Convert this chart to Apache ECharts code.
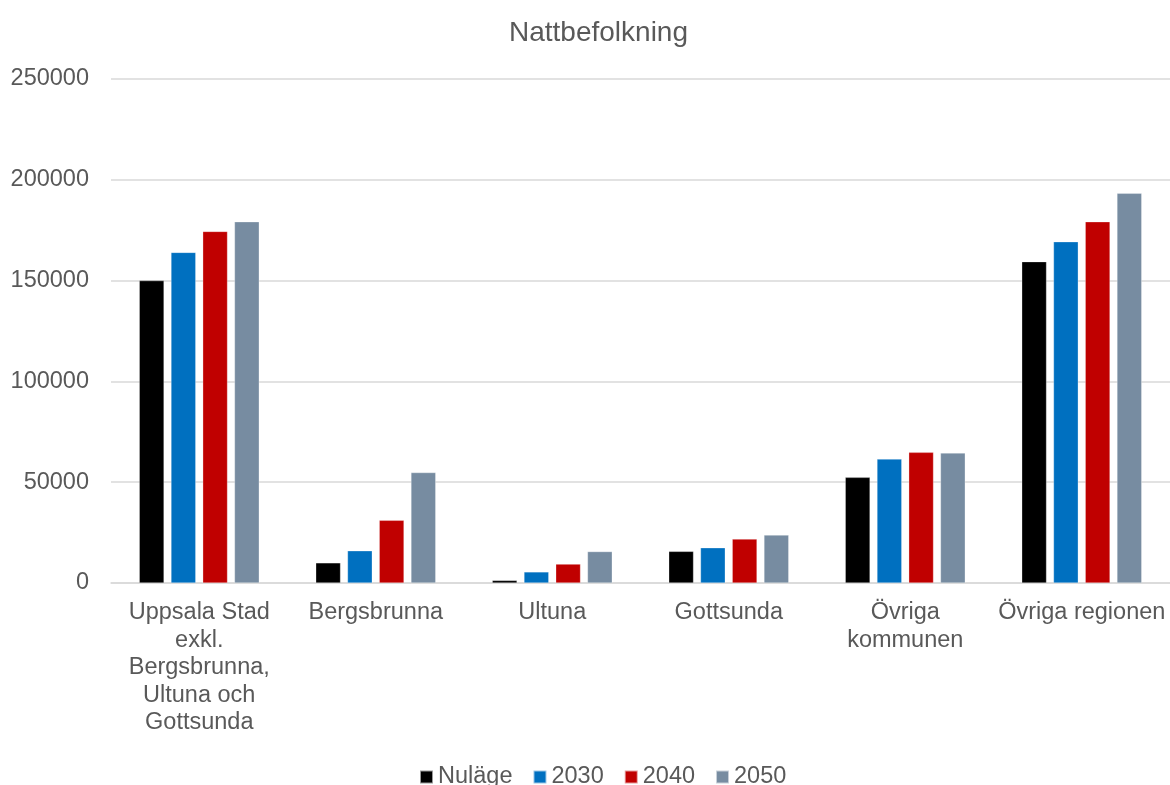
<!DOCTYPE html>
<html>
<head>
<meta charset="utf-8">
<script src="https://cdn.jsdelivr.net/npm/echarts@6/dist/echarts.min.js"></script>
<style>html,body{margin:0;padding:0;background:#fff}#c{width:1170px;height:785px}</style>
</head>
<body>
<div id="c"></div>
<script>
const categories = ["Uppsala Stad\nexkl.\nBergsbrunna,\nUltuna och\nGottsunda", "Bergsbrunna", "Ultuna", "Gottsunda", "Övriga\nkommunen", "Övriga regionen"];
const seriesNames = ["Nuläge", "2030", "2040", "2050"];
const nulage = [150000, 10000, 1300, 15700, 52400, 159400];
const v2030 = [164000, 16000, 5500, 17500, 61500, 169300];
const v2040 = [174400, 31100, 9400, 21800, 64800, 179200];
const v2050 = [179200, 54800, 15600, 23800, 64500, 193300];
const yTicks = [0, 50000, 100000, 150000, 200000, 250000];
const colors = ["#000000", "#0070C0", "#C00000", "#778CA1"];

const chart = echarts.init(document.getElementById('c'));
const font = 'Liberation Sans, Arial, sans-serif';
const data = [nulage, v2030, v2040, v2050];
chart.setOption({
  animation: false,
  textStyle: {fontFamily: font},
  title: {text: 'Nattbefolkning', left: 504, top: 14,
    textStyle: {fontSize: 28, fontWeight: 'normal', color: '#595959', fontFamily: font}},
  legend: {left: 414, top: 760, itemWidth: 13, itemHeight: 13, itemGap: 20,
    data: seriesNames.map((n, i) => ({name: n, icon: 'rect'})),
    textStyle: {fontSize: 23.5, color: '#595959', padding: [0, 0, 0, 0]}},
  grid: {left: 111, right: -4, top: 79, bottom: 202},
  xAxis: {type: 'category', data: categories,
    axisLine: {lineStyle: {color: '#d9d9d9', width: 1.5}},
    axisTick: {show: false},
    axisLabel: {fontSize: 23.5, color: '#595959', lineHeight: 27.5, margin: 16, interval: 0}},
  yAxis: {type: 'value', min: 0, max: 250000, interval: 50000,
    axisLine: {show: false}, axisTick: {show: false},
    splitLine: {lineStyle: {color: '#d9d9d9', width: 1.5}},
    axisLabel: {fontSize: 23.5, color: '#595959', margin: 22,
      formatter: v => yTicks.includes(v) ? String(v) : ''}},
  series: seriesNames.map((n, i) => ({
    name: n, type: 'bar', data: data[i], barGap: '28%', barCategoryGap: '32%',
    itemStyle: {color: colors[i], borderColor: 'rgba(255,255,255,0.6)', borderWidth: 0.5}
  }))
});
</script>
</body>
</html>
